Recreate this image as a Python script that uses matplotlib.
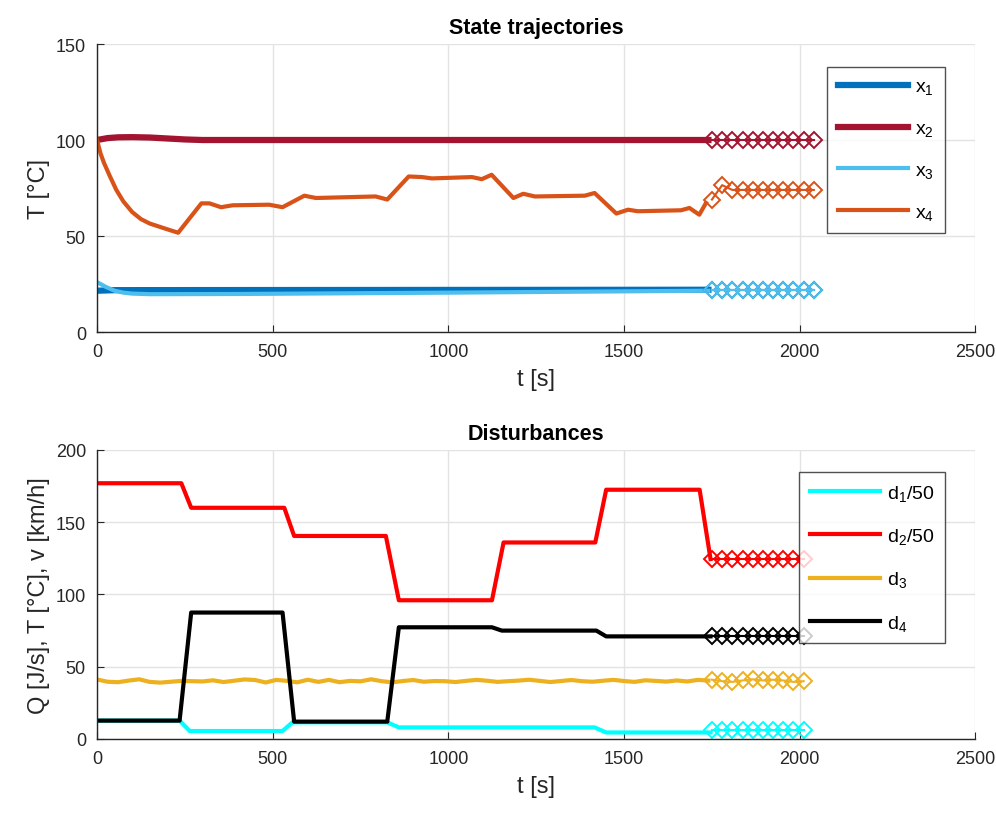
import matplotlib
matplotlib.use("Agg")
import matplotlib.pyplot as plt

plt.rcParams["font.family"] = ["Liberation Sans", "DejaVu Sans"]
plt.rcParams["mathtext.fontset"] = "custom"
plt.rcParams["mathtext.rm"] = "Liberation Sans"
plt.rcParams["mathtext.it"] = "Liberation Sans"
plt.rcParams["mathtext.default"] = "regular"

# --- state trajectories (measured part) ---
t_x1 = [0, 50, 1740]
x1 = [21.5, 21.8, 22.0]
t_x2 = [0, 30, 60, 100, 150, 200, 250, 300, 1740]
x2 = [100, 101, 101.4, 101.5, 101.3, 100.8, 100.3, 100, 100]
t_x3 = [0, 25, 50, 75, 100, 150, 400, 1000, 1740]
x3 = [26, 23.5, 21.5, 20.5, 20, 19.7, 19.8, 20.5, 21.5]
t_x4 = [0, 10, 20, 37, 55, 75, 100, 125, 150, 175, 200, 231, 297, 320, 353, 386,
        490, 528, 590, 623, 793, 826, 887, 925, 953, 1067, 1095, 1123, 1185, 1213,
        1246, 1388, 1416, 1478, 1511, 1539, 1662, 1686, 1714, 1733]
x4 = [100, 93, 88, 81, 74, 68, 62.5, 58.8, 56.5, 55, 53.5, 51.7, 67, 67, 65, 66,
      66.3, 65, 71, 69.8, 70.6, 69, 81, 80.7, 80, 80.7, 79.6, 81.9, 69.8, 72,
      70.6, 71, 72.4, 61.7, 63.7, 62.9, 63.4, 64.6, 61.1, 67.2]

# --- state predictions (diamonds) ---
t_pred_x = [1750, 1779, 1808, 1837, 1866, 1895, 1924, 1953, 1982, 2011, 2040]
x1_pred = [22, 22, 22, 22, 22, 22, 22, 22, 22, 22, 22]
x2_pred = [100, 100, 100, 100, 100, 100, 100, 100, 100, 100, 100]
x3_pred = [22, 22, 22, 22, 22, 22, 22, 22, 22, 22, 22]
x4_pred = [69, 76.5, 74, 74, 74, 74, 74, 74, 74, 74, 74]

# --- disturbances (measured part) ---
t_d1 = [0, 235, 264, 528, 556, 826, 859, 1416, 1449, 1746]
d1 = [12.7, 12.7, 5.5, 5.5, 11.5, 11.5, 8, 8, 4.5, 4.5]
t_d2 = [0, 240, 268, 533, 561, 822, 859, 1124, 1157, 1418, 1449, 1715, 1746]
d2 = [177, 177, 160, 160, 140.5, 140.5, 96, 96, 136, 136, 172.5, 172.5, 124.5]
t_d3 = list(range(0, 1741, 30))
d3 = [41.2, 39.6, 39.3, 40.4, 41.3, 39.5, 39.0, 39.6, 40.2, 40.0, 39.8, 40.6,
      39.4, 40.3, 41.2, 40.8, 39.1, 40.9, 40.2, 39.2, 41.0, 39.5, 40.9, 39.3,
      40.2, 39.9, 41.3, 40.0, 39.2, 40.1, 40.8, 39.6, 40.1, 40.0, 39.4, 40.2,
      40.9, 40.3, 39.5, 40.0, 40.4, 41.0, 40.2, 39.4, 40.1, 40.8, 40.0, 39.6,
      40.3, 40.9, 40.1, 39.5, 40.6, 40.2, 39.7, 40.5, 39.8, 40.9, 40.4]
t_d4 = [0, 235, 268, 528, 561, 826, 859, 1124, 1152, 1421, 1449, 1746]
d4 = [12.7, 12.7, 87.5, 87.5, 12, 12, 77.3, 77.3, 75, 75, 71, 71]

# --- disturbance predictions (diamonds) ---
t_pred_d = [1750, 1779, 1808, 1837, 1866, 1895, 1924, 1953, 1982, 2011]
d1_pred = [6.5, 6.5, 6.5, 6.5, 6.5, 6.5, 6.5, 6.5, 6.5, 6.5]
d2_pred = [124.5, 124.5, 124.5, 124.5, 124.5, 124.5, 124.5, 124.5, 124.5, 124.5]
d3_pred = [41, 40, 39.5, 40.5, 41.3, 40.5, 41, 40.5, 39.5, 40]
d4_pred = [71.3, 71.3, 71.3, 71.3, 71.3, 71.3, 71.3, 71.3, 71.3, 71.3]

fig = plt.figure(figsize=(9.96, 8.2), dpi=100)
ax1 = fig.add_axes([0.0974, 0.5939, 0.882, 0.3512])
ax2 = fig.add_axes([0.0974, 0.0976, 0.882, 0.3524])

dark = "#262626"


def style(ax, ymax, yticks):
    ax.set_xlim(0, 2500)
    ax.set_ylim(0, ymax)
    ax.set_xticks([0, 500, 1000, 1500, 2000, 2500])
    ax.set_yticks(yticks)
    ax.grid(True, color="#e3e3e3", linewidth=1)
    ax.set_axisbelow(True)
    ax.spines["top"].set_visible(False)
    ax.spines["right"].set_visible(False)
    for s in ("left", "bottom"):
        ax.spines[s].set_color(dark)
        ax.spines[s].set_linewidth(1)
    ax.tick_params(direction="in", length=5, colors=dark, labelsize=13, pad=8)
    ax.set_xlabel("t [s]", fontsize=17, color=dark, labelpad=6)


def legend(ax, top):
    leg = ax.legend(loc="upper right", bbox_to_anchor=(0.965, top), fontsize=14,
                    handlelength=3.6, labelspacing=1.2, frameon=True, fancybox=False,
                    borderpad=0.55, handletextpad=0.35, borderaxespad=0)
    leg.get_frame().set_edgecolor(dark)
    leg.get_frame().set_linewidth(1)


# top plot
pk = dict(marker="D", markersize=8.5, markerfacecolor="none", markeredgewidth=1.4)
ax1.plot(t_x1, x1, color="#0072BD", linewidth=4.5, label="x$_1$")
ax1.plot(t_x2, x2, color="#A2142F", linewidth=4.5, label="x$_2$")
ax1.plot(t_x3, x3, color="#4DBEEE", linewidth=3, label="x$_3$")
ax1.plot(t_x4, x4, color="#D95319", linewidth=3, label="x$_4$")
ax1.plot(t_pred_x, x1_pred, color="#0072BD", linewidth=1.5, **pk)
ax1.plot(t_pred_x, x2_pred, color="#A2142F", linewidth=1.5, **pk)
ax1.plot(t_pred_x, x3_pred, color="#4DBEEE", linewidth=1.5, **pk)
ax1.plot(t_pred_x, x4_pred, color="#D95319", linewidth=1.5, **pk)
style(ax1, 150, [0, 50, 100, 150])
ax1.set_ylabel("T [°C]", fontsize=17, color=dark)
ax1.set_title("State trajectories", fontsize=15.5, fontweight="bold", pad=8)
legend(ax1, 0.92)

# bottom plot
ax2.plot(t_d1, d1, color="#00FFFF", linewidth=3, label="d$_1$/50")
ax2.plot(t_d2, d2, color="#FF0000", linewidth=3, label="d$_2$/50")
ax2.plot(t_d3, d3, color="#EDB120", linewidth=3, label="d$_3$")
ax2.plot(t_d4, d4, color="black", linewidth=3, label="d$_4$")
ax2.plot(t_pred_d, d1_pred, color="#00FFFF", linewidth=1.5, **pk)
ax2.plot(t_pred_d, d2_pred, color="#FF0000", linewidth=1.5, **pk)
ax2.plot(t_pred_d, d3_pred, color="#EDB120", linewidth=1.5, **pk)
ax2.plot(t_pred_d, d4_pred, color="black", linewidth=1.5, **pk)
style(ax2, 200, [0, 50, 100, 150, 200])
ax2.set_ylabel("Q [J/s], T [°C], v [km/h]", fontsize=17, color=dark)
ax2.set_title("Disturbances", fontsize=15.5, fontweight="bold", pad=8)
legend(ax2, 0.924)

fig.savefig("out.png", dpi=100)
